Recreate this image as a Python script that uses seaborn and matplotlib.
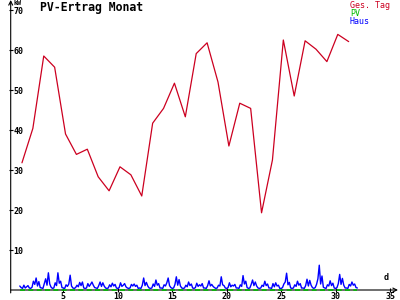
import numpy as np
import pandas as pd
import matplotlib
matplotlib.use("Agg")
import matplotlib.pyplot as plt
import seaborn as sns

# ---- data ----
days = list(range(1, 32))
ges_tag = [31.8, 40.4, 58.5, 55.7, 39.0, 33.9, 35.2, 28.3, 24.8, 30.8,
           28.8, 23.5, 41.7, 45.4, 51.7, 43.3, 59.1, 61.8, 52.0, 36.0,
           46.7, 45.4, 19.3, 32.5, 62.5, 48.5, 62.3, 60.2, 57.1, 63.9, 62.1]

# house consumption, 8 samples per day (3-hourly), day 1 .. day 32
haus_rows = [
    [1.0, 0.6, 0.4, 1.2, 0.5, 0.8, 1.1, 0.5],
    [0.4, 0.7, 2.2, 1.4, 3.0, 1.0, 2.1, 0.6],
    [0.5, 0.4, 1.6, 2.8, 1.2, 4.3, 1.5, 0.7],
    [0.4, 0.5, 1.8, 1.1, 4.3, 1.7, 2.2, 0.6],
    [0.5, 0.4, 1.3, 0.9, 1.5, 3.7, 1.0, 0.5],
    [0.4, 0.6, 1.2, 0.8, 1.9, 1.1, 2.0, 0.5],
    [0.4, 0.5, 1.6, 0.9, 1.4, 2.0, 1.2, 0.6],
    [0.5, 0.4, 1.1, 2.0, 0.9, 1.8, 1.0, 0.5],
    [0.4, 0.5, 1.3, 0.8, 1.7, 1.0, 1.4, 0.5],
    [0.4, 0.6, 1.8, 0.9, 1.2, 1.6, 0.8, 0.5],
    [0.4, 0.5, 1.4, 1.0, 1.5, 0.9, 1.2, 0.4],
    [0.5, 0.4, 1.2, 3.0, 1.1, 1.9, 1.0, 0.5],
    [0.4, 0.5, 1.5, 0.9, 2.5, 1.2, 1.6, 0.5],
    [0.5, 0.4, 1.3, 1.0, 1.8, 3.0, 1.1, 0.6],
    [0.4, 0.5, 1.4, 3.3, 1.2, 2.6, 1.0, 0.5],
    [0.4, 0.5, 1.2, 0.8, 2.0, 1.1, 1.5, 0.5],
    [0.4, 0.6, 1.7, 0.9, 1.3, 1.0, 1.6, 0.5],
    [0.5, 0.4, 1.1, 2.3, 1.0, 1.4, 0.9, 0.6],
    [0.4, 0.5, 1.2, 1.0, 3.3, 1.3, 1.1, 0.5],
    [0.4, 0.6, 1.8, 0.8, 1.2, 1.0, 1.4, 0.5],
    [0.5, 0.4, 1.3, 0.9, 3.6, 1.5, 2.2, 0.6],
    [0.4, 0.5, 1.4, 2.5, 1.1, 2.0, 1.0, 0.5],
    [0.4, 0.5, 1.2, 0.9, 2.2, 1.1, 1.5, 0.5],
    [0.5, 0.4, 1.6, 0.8, 1.8, 1.0, 1.2, 0.4],
    [0.4, 0.6, 1.5, 2.0, 4.2, 1.3, 1.9, 0.5],
    [0.4, 0.5, 1.3, 0.9, 2.2, 1.2, 1.6, 0.5],
    [0.5, 0.4, 1.1, 2.7, 1.0, 2.4, 1.2, 0.6],
    [0.4, 0.6, 1.4, 2.8, 6.2, 1.5, 3.5, 0.7],
    [0.5, 0.4, 1.3, 1.0, 2.3, 1.1, 1.7, 0.5],
    [0.4, 0.6, 1.6, 3.9, 1.4, 2.9, 1.2, 0.5],
    [0.5, 0.4, 1.4, 1.0, 2.0, 1.2, 1.5, 0.6],
    [0.5],
]
samples_per_day = 8

pv_days = [1, 32]
pv_values = [0.0, 0.0]

y_ticks = [10, 20, 30, 40, 50, 60, 70]
x_ticks = [5, 10, 15, 20, 25, 30, 35]

title = "PV-Ertrag Monat"
legend_labels = ["Ges. Tag", "PV", "Haus"]

# ---- styling ----
sns.set_style("white")
plt.rcParams['font.family'] = ['DejaVu Sans Mono', 'DejaVu Sans']

RED = "#cc0020"
GREEN = "#00bb00"
BLUE = "#0000ff"

W, H = 400, 300
fig = plt.figure(figsize=(4, 3), dpi=100)
ax = fig.add_axes([10.7 / W, 10 / H, (398 - 10.7) / W, 290 / H])
ax.set_facecolor("white")

haus = [v for row in haus_rows for v in row]
t_haus = 1 + np.arange(len(haus)) / samples_per_day
df_haus = pd.DataFrame({"t": t_haus, "v": haus})
df_red = pd.DataFrame({"t": np.array(days) + 0.2, "v": ges_tag})
df_pv = pd.DataFrame({"t": pv_days, "v": pv_values})

sns.lineplot(data=df_haus, x="t", y="v", ax=ax, color=BLUE, lw=1.0,
             estimator=None, legend=False, zorder=3)
sns.lineplot(data=df_red, x="t", y="v", ax=ax, color=RED, lw=0.9,
             estimator=None, legend=False, zorder=4)

# scale: x=0 at px 8.9, 10.89 px/unit ; y: 4 px/unit, 0 at px 290
px_per_x = 10.89
x0px = 8.9
ax.set_xlim((10.7 - x0px) / px_per_x, (398 - x0px) / px_per_x)
ax.set_ylim(0, 72.5)

for s in ax.spines.values():
    s.set_visible(False)

# axes with arrows
ax.annotate("", xy=(1.0, 0), xycoords=("axes fraction", "data"),
            xytext=(0.0, 0), textcoords=("axes fraction", "data"),
            arrowprops=dict(arrowstyle="->", lw=0.8, color="black",
                            shrinkA=0, shrinkB=0, mutation_scale=7),
            annotation_clip=False, zorder=2)
ax.annotate("", xy=(0.0, 1.0), xycoords="axes fraction",
            xytext=(0.0, -0.01), textcoords="axes fraction",
            arrowprops=dict(arrowstyle="->", lw=0.8, color="black",
                            shrinkA=0, shrinkB=0, mutation_scale=7),
            annotation_clip=False, zorder=2)

# PV line on top of x-axis, dashed look
ax.plot(df_pv["t"], df_pv["v"], color=GREEN, lw=1.2, dashes=(3, 2),
        zorder=5, clip_on=False)

ax.set_xticks(x_ticks)
ax.set_yticks(y_ticks)
ax.set_xticklabels([str(v) for v in x_ticks])
ax.set_yticklabels([str(v) for v in y_ticks])
ax.tick_params(axis="both", direction="inout", length=3.5, width=0.8,
               colors="black", labelsize=6)
ax.tick_params(axis="x", pad=-0.2, bottom=True)
ax.tick_params(axis="y", pad=-3.9, left=True)
for lab in ax.get_yticklabels():
    lab.set_ha("left")
    lab.set_fontweight("bold")
for lab in ax.get_xticklabels():
    lab.set_fontweight("bold")
ax.set_xlabel("")
ax.set_ylabel("")
ax.grid(False)

# texts
fig.text(40 / W, 1 - 1 / H, title, ha="left", va="top", fontsize=8.3,
         fontweight="bold", color="black")
fig.text(13 / W, 1.0, "kW", ha="left", va="top", fontsize=4.8,
         fontweight="bold", color="black")
fig.text(384 / W, 1 - 277 / H, "d", ha="left", va="center", fontsize=6,
         fontweight="bold", color="black")
for i, (lab, col) in enumerate(zip(legend_labels, [RED, GREEN, BLUE])):
    fig.text(350 / W, 1 - (1.5 + 7.5 * i) / H, lab, ha="left", va="top",
             fontsize=6, color=col)

fig.savefig("out.png", dpi=100, facecolor="white")
